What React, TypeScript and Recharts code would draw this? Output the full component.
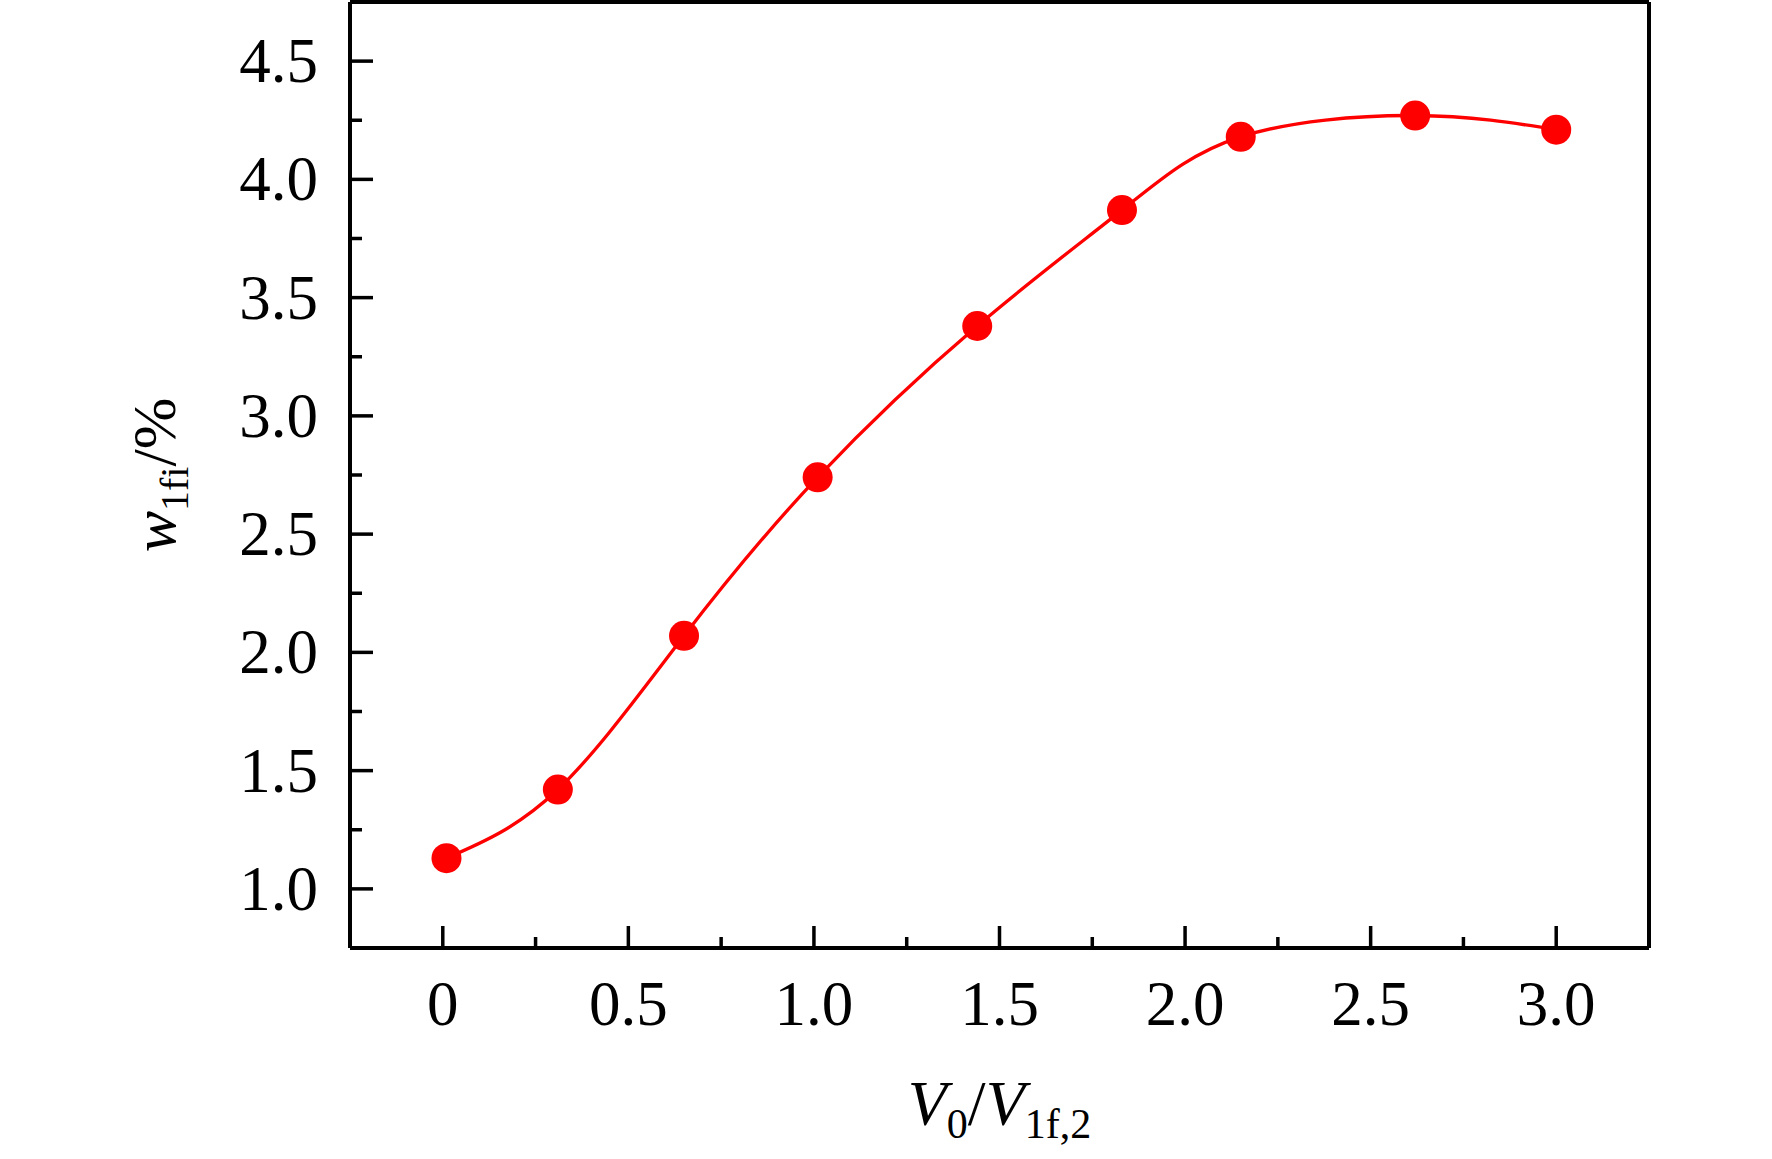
import React from "react";
import { LineChart, Line, XAxis, YAxis, ReferenceLine } from "recharts";

const ratioValues = [0.01, 0.31, 0.65, 1.01, 1.44, 1.83, 2.15, 2.62, 3.0];
const wValues = [1.13, 1.42, 2.07, 2.74, 3.38, 3.87, 4.18, 4.27, 4.21];

const xTicks = [0, 0.25, 0.5, 0.75, 1, 1.25, 1.5, 1.75, 2, 2.25, 2.5, 2.75, 3];
const xMajorTicks = [0, 0.5, 1, 1.5, 2, 2.5, 3];
const xTickLabels = ["0", "0.5", "1.0", "1.5", "2.0", "2.5", "3.0"];

const yTicks = [1, 1.25, 1.5, 1.75, 2, 2.25, 2.5, 2.75, 3, 3.25, 3.5, 3.75, 4, 4.25, 4.5];
const yMajorTicks = [1, 1.5, 2, 2.5, 3, 3.5, 4, 4.5];
const yTickLabels = ["1.0", "1.5", "2.0", "2.5", "3.0", "3.5", "4.0", "4.5"];

const xDomain = [-0.25, 3.25];
const yDomain = [0.75, 4.75];

const data = ratioValues.map((x, i) => ({ x, w: wValues[i] }));

const FONT = "'Liberation Serif', 'Times New Roman', serif";
const AXIS = { stroke: "#000", strokeWidth: 4 };

function XTick({ x, y, payload }: any) {
  const i = xMajorTicks.indexOf(payload.value);
  const major = i >= 0;
  return (
    <g>
      <line x1={x} x2={x} y1={y} y2={y - (major ? 22 : 11)} stroke="#000" strokeWidth={3.5} />
      {major && (
        <text x={x} y={y + 77} textAnchor="middle" fontFamily={FONT} fontSize={63} fill="#000">
          {xTickLabels[i]}
        </text>
      )}
    </g>
  );
}

function YTick({ x, y, payload }: any) {
  const i = yMajorTicks.indexOf(payload.value);
  const major = i >= 0;
  return (
    <g>
      <line x1={x} x2={x + (major ? 23 : 12)} y1={y} y2={y} stroke="#000" strokeWidth={3.5} />
      {major && (
        <text x={x - 32} y={y + 21} textAnchor="end" fontFamily={FONT} fontSize={63} fill="#000">
          {yTickLabels[i]}
        </text>
      )}
    </g>
  );
}

function XLabel({ viewBox }: any) {
  const cx = viewBox.x + viewBox.width / 2;
  const by = viewBox.y + 177;
  return (
    <text x={cx} y={by} textAnchor="middle" fontFamily={FONT} fontSize={64} fill="#000">
      <tspan fontStyle="italic">V</tspan>
      <tspan fontSize={42} dy={13}>0</tspan>
      <tspan dy={-13}>/</tspan>
      <tspan fontStyle="italic">V</tspan>
      <tspan fontSize={42} dy={13}>1f,2</tspan>
    </text>
  );
}

function YLabel({ viewBox }: any) {
  const cx = viewBox.x - 75;
  const cy = viewBox.y + viewBox.height / 2;
  return (
    <text
      x={cx}
      y={cy}
      transform={`rotate(-90, ${cx}, ${cy})`}
      textAnchor="middle"
      fontFamily={FONT}
      fontSize={62}
      fill="#000"
    >
      <tspan fontStyle="italic">w</tspan>
      <tspan fontSize={40} dy={13}>1fi</tspan>
      <tspan dy={-13}>/%</tspan>
    </text>
  );
}

export default function App() {
  return (
    <div style={{ position: "absolute", left: 0, top: 0, width: 1772, height: 1159, background: "#fff" }}>
      <LineChart
        width={1772}
        height={1159}
        data={data}
        margin={{ top: 2, right: 123, bottom: 111, left: 250 }}
      >
        <XAxis
          dataKey="x"
          type="number"
          domain={xDomain}
          ticks={xTicks}
          allowDataOverflow
          height={100}
          axisLine={AXIS}
          tickLine={false}
          tickSize={0}
          tickMargin={0}
          tick={<XTick />}
          interval={0}
          label={{ content: (p: any) => <XLabel {...p} /> }}
        />
        <YAxis
          type="number"
          domain={yDomain}
          ticks={yTicks}
          allowDataOverflow
          width={100}
          axisLine={AXIS}
          tickLine={false}
          tickSize={0}
          tickMargin={0}
          tick={<YTick />}
          interval={0}
          label={{ content: (p: any) => <YLabel {...p} /> }}
        />
        {/* closing frame: top and right edges */}
        <ReferenceLine y={yDomain[1]} stroke="#000" strokeWidth={4} ifOverflow="visible" />
        <ReferenceLine x={xDomain[1]} stroke="#000" strokeWidth={4} ifOverflow="visible" />
        <Line
          type="natural"
          dataKey="w"
          stroke="#ff0000"
          strokeWidth={3.3}
          dot={{ r: 15, fill: "#ff0000", stroke: "none" }}
          activeDot={false}
          isAnimationActive={false}
        />
      </LineChart>
    </div>
  );
}
